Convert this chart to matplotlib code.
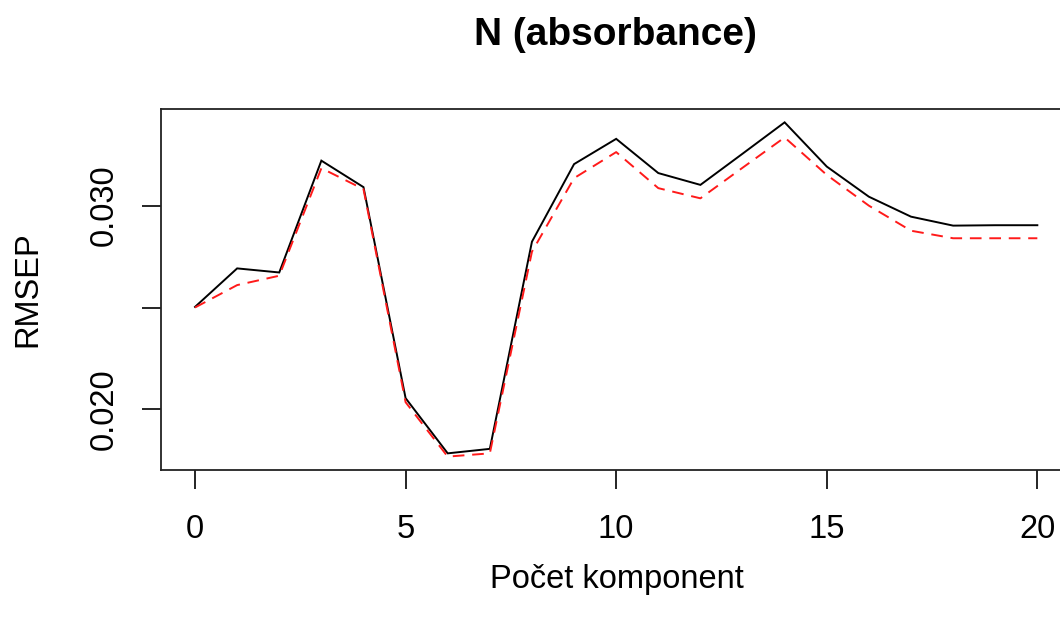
import matplotlib
matplotlib.use("Agg")
import matplotlib.pyplot as plt

plt.rcParams['font.family'] = ['Liberation Sans', 'DejaVu Sans']

components = list(range(21))
rmsep_cv = [0.02503, 0.02692, 0.02672, 0.03221, 0.03091, 0.02055, 0.01784, 0.01806,
            0.02823, 0.03204, 0.03328, 0.03160, 0.03102, 0.03255, 0.03409, 0.03192,
            0.03044, 0.02946, 0.02902, 0.02904, 0.02904]
rmsep_adj = [0.02500, 0.02610, 0.02656, 0.03184, 0.03081, 0.02035, 0.01768, 0.01784,
             0.02774, 0.03135, 0.03263, 0.03086, 0.03036, 0.03186, 0.03335, 0.03151,
             0.03000, 0.02877, 0.02840, 0.02840, 0.02840]
xticks = [0, 5, 10, 15, 20]
yticks = [0.020, 0.025, 0.030]
ytick_labels = ['0.020', '', '0.030']

fig = plt.figure(figsize=(10.6, 6.21), dpi=100)
ax = fig.add_axes([0.1522, 0.2432, 0.8582, 0.5813])

ax.plot(components, rmsep_cv, color='black', lw=1.4, solid_joinstyle='miter')
ax.plot(components, rmsep_adj, color='#ff1a1a', lw=1.4, dashes=(6, 4))

x0, x1 = min(components), max(components)
ax.set_xlim(x0 - 0.04 * (x1 - x0), x1 + 0.04 * (x1 - x0))
ymin = min(rmsep_cv + rmsep_adj)
ymax = max(rmsep_cv + rmsep_adj)
ax.set_ylim(ymin - 0.04 * (ymax - ymin), ymax + 0.04 * (ymax - ymin))

ax.set_xticks(xticks)
ax.set_xticklabels([str(t) for t in xticks])
ax.set_yticks(yticks)
ax.set_yticklabels(ytick_labels, rotation=90, va='center')
ax.tick_params(axis='both', length=14, width=1.2, labelsize=23.5, color='black')
ax.tick_params(axis='x', pad=18)
ax.tick_params(axis='y', pad=16)
for sp in ax.spines.values():
    sp.set_linewidth(1.3)
    sp.set_color('#222222')

fig.text(0.581, 0.9436, 'N (absorbance)', ha='center', va='center',
         fontsize=28, fontweight='bold')
fig.text(0.582, 0.0670, 'Počet komponent', ha='center', va='center', fontsize=23.5)
fig.text(0.0264, 0.5338, 'RMSEP', ha='center', va='center', fontsize=23.5, rotation=90)

fig.savefig('out.png', dpi=100)
